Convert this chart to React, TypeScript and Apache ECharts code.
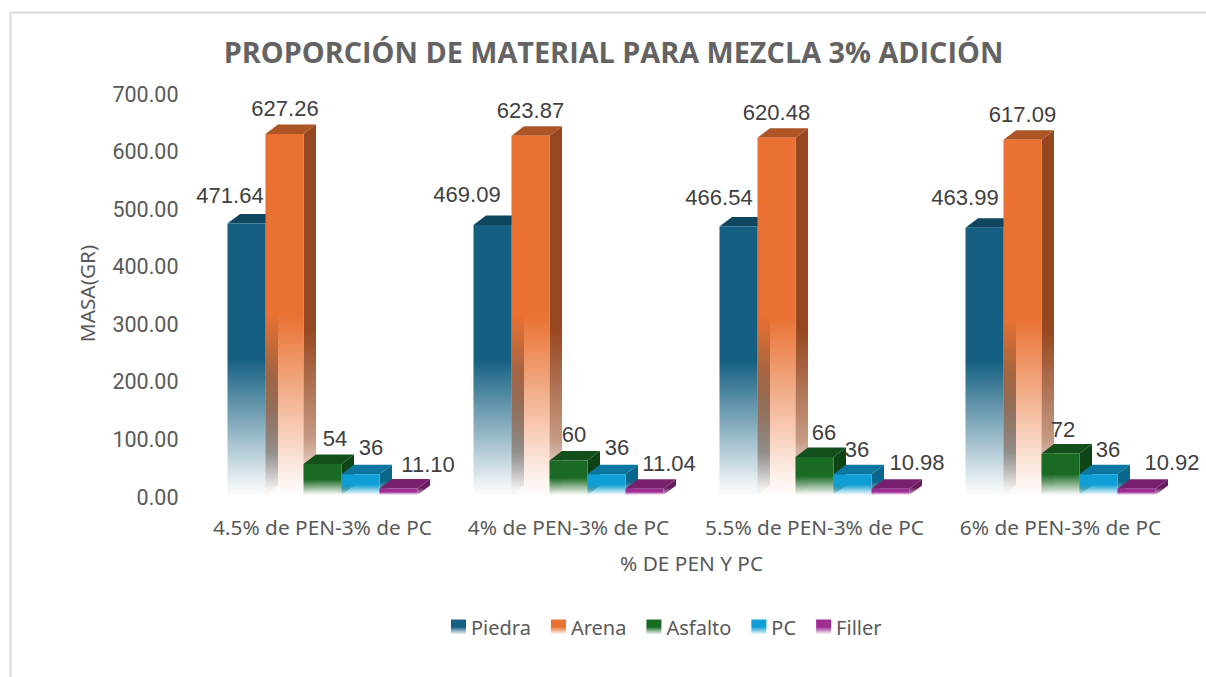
import React, { useEffect, useRef } from "react";
import * as echarts from "echarts";

const categories = ["4.5% de PEN-3% de PC", "4% de PEN-3% de PC", "5.5% de PEN-3% de PC", "6% de PEN-3% de PC"];
const piedra = [471.64, 469.09, 466.54, 463.99];
const arena = [627.26, 623.87, 620.48, 617.09];
const asfalto = [54, 60, 66, 72];
const pc = [36, 36, 36, 36];
const filler = [11.1, 11.04, 10.98, 10.92];

const labelDx = [
  [-16.5, -25.5, -19.5, -19.5],
  [0.5, 0, 0, 0],
  [12.5, 5.5, 9.5, 2.5],
  [10.5, 10.5, 4.5, 9.5],
  [29.5, 24.5, 26.5, 35.5],
];
const labelDy = [
  [-28, -30, -29, -30],
  [-25, -25, -25, -25],
  [-25, -25.5, -25, -24.5],
  [-27, -27, -25, -25],
  [-24, -25.5, -26.5, -26.5],
];

const seriesDefs = [
  { name: "Piedra", values: piedra, decimals: 2, front: "#156082", top: "#0f4761", side: "#0f4761", rgb: "21,96,130", sideRgb: "15,71,97" },
  { name: "Arena", values: arena, decimals: 2, front: "#E97132", top: "#ae5526", side: "#97471f", rgb: "233,113,50", sideRgb: "151,71,31" },
  { name: "Asfalto", values: asfalto, decimals: 0, front: "#196B24", top: "#124f1b", side: "#0f4516", rgb: "25,107,36", sideRgb: "15,69,22" },
  { name: "PC", values: pc, decimals: 0, front: "#0F9ED5", top: "#0b76a0", side: "#0a668a", rgb: "15,158,213", sideRgb: "10,102,138" },
  { name: "Filler", values: filler, decimals: 2, front: "#A02B93", top: "#78206e", side: "#681c5f", rgb: "160,43,147", sideRgb: "104,28,95" },
];

const AXIS = "Noto Sans, sans-serif";
const NUM = "Liberation Sans, Arial, sans-serif";
const TICK = "Roboto, Liberation Sans, sans-serif";
const TEXT = "#595959";

function fade(color: string, rgb: string) {
  return new echarts.graphic.LinearGradient(0, 0, 0, 1, [
    { offset: 0, color },
    { offset: 0.5, color },
    { offset: 0.97, color: `rgba(${rgb},0.06)` },
    { offset: 1, color: `rgba(${rgb},0.02)` },
  ]);
}

function fadeSide(color: string, rgb: string) {
  return new echarts.graphic.LinearGradient(0, 0, 0, 1, [
    { offset: 0, color },
    { offset: 0.55, color },
    { offset: 0.85, color: `rgba(${rgb},0.55)` },
    { offset: 0.98, color: `rgba(${rgb},0.04)` },
  ]);
}

export default function App() {
  const ref = useRef<HTMLDivElement>(null);
  useEffect(() => {
    document.body.style.margin = "0";
    const chart = echarts.init(ref.current!, null, { renderer: "svg" });
    const option: any = {
      animation: false,
      backgroundColor: "#ffffff",
      title: {
        text: "PROPORCIÓN DE MATERIAL PARA MEZCLA 3% ADICIÓN",
        left: 608.5,
        top: 32,
        textAlign: "center",
        textStyle: { fontFamily: "Open Sans, sans-serif", fontSize: 28.8, fontWeight: 700, color: "#636363" },
      },
      grid: { left: 199.5, width: 984, top: 92, height: 403 },
      xAxis: {
        type: "category",
        data: categories,
        axisLine: { show: false },
        axisTick: { show: false },
        axisLabel: { fontFamily: AXIS, fontSize: 20.8, color: TEXT, margin: 21, interval: 0 },
        name: "% DE PEN Y PC",
        nameLocation: "middle",
        nameGap: 57,
        nameTextStyle: { fontFamily: AXIS, fontSize: 20.8, color: TEXT },
      },
      yAxis: {
        type: "value",
        min: 0,
        max: 700,
        interval: 100,
        splitLine: { show: false },
        axisLine: { show: false },
        axisTick: { show: false },
        axisLabel: {
          margin: 21,
          formatter: (v: number) => `{t|${v.toFixed(2)}}`,
          rich: {
            t: { fontFamily: TICK, fontSize: 21.5, color: TEXT, padding: [4, 0, 0, 0] },
          },
        },
        name: "MASA(GR)",
        nameLocation: "middle",
        nameGap: 102,
        nameTextStyle: { fontFamily: AXIS, fontSize: 20.8, color: TEXT },
      },
      legend: {
        left: 446,
        top: 612,
        icon: "rect",
        itemWidth: 15,
        itemHeight: 15,
        itemGap: 20,
        textStyle: { fontFamily: AXIS, fontSize: 20, color: TEXT },
        data: seriesDefs.map((d) => ({
          name: d.name,
          itemStyle: { color: fade(d.front, d.rgb) },
        })),
      },
      graphic: [
        { type: "line", shape: { x1: 10.5, y1: 12.5, x2: 1206, y2: 12.5 }, style: { stroke: "#d9d9d9", lineWidth: 2 }, silent: true },
        { type: "line", shape: { x1: 10.5, y1: 12.5, x2: 10.5, y2: 677 }, style: { stroke: "#d9d9d9", lineWidth: 2 }, silent: true },
      ],
      series: seriesDefs.map((d, si) => ({
        type: "custom",
        name: d.name,
        clip: false,
        z: 2 + si,
        itemStyle: { color: d.front },
        encode: { x: 0, y: 1 },
        data: d.values.map((v, i) => [i, v]),
        renderItem: (_p: any, api: any) => {
          const idx = api.value(0);
          const val = api.value(1);
          const [cx, yTop] = api.coord([idx, val]);
          const [, yBase] = api.coord([idx, 0]);
          const band = api.size([1, 0])[0];
          const bw = band * 0.1545;
          const x0 = cx + (si - 2.5) * bw;
          const x1 = x0 + bw;
          const dx = 12.5;
          const dy = 9.5;
          return {
            type: "group",
            children: [
              {
                type: "polygon",
                shape: { points: [[x1, yTop], [x1 + dx, yTop - dy], [x1 + dx, yBase - dy], [x1, yBase]] },
                style: { fill: fadeSide(d.side, d.sideRgb) },
              },
              {
                type: "polygon",
                shape: { points: [[x0, yTop], [x0 + dx, yTop - dy], [x1 + dx, yTop - dy], [x1, yTop]] },
                style: { fill: d.top },
              },
              {
                type: "rect",
                shape: { x: x0, y: yTop, width: bw, height: yBase - yTop },
                style: { fill: fade(d.front, d.rgb) },
              },
              {
                type: "text",
                style: {
                  text: val.toFixed(d.decimals),
                  x: x0 + bw / 2 + labelDx[si][idx],
                  y: yTop + labelDy[si][idx],
                  align: "center",
                  verticalAlign: "middle",
                  fontFamily: NUM,
                  fontSize: 22,
                  fill: "#404040",
                },
                z2: 100,
              },
            ],
          };
        },
      })),
    };
    chart.setOption(option);
    return () => chart.dispose();
  }, []);
  return <div ref={ref} style={{ position: "absolute", left: 0, top: 0, width: 1206, height: 677 }} />;
}
